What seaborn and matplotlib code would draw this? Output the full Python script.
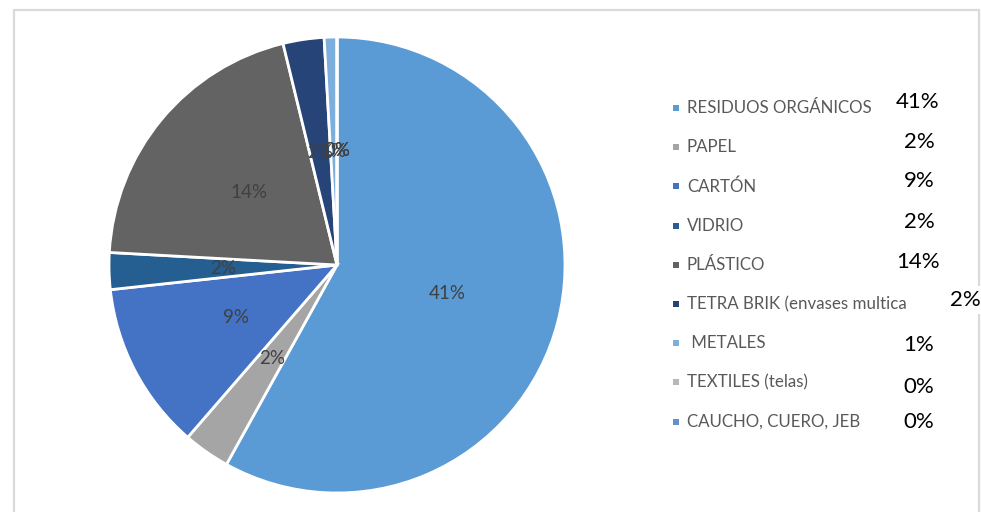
import matplotlib
matplotlib.use("Agg")
import matplotlib.pyplot as plt
from matplotlib.patches import Rectangle
import seaborn as sns

# waste composition (wedge sizes, labels as printed)
categories = ["RESIDUOS ORGÁNICOS", "PAPEL", "CARTÓN", "VIDRIO", "PLÁSTICO",
              "TETRA BRIK (envases multica", " METALES", "TEXTILES (telas)",
              "CAUCHO, CUERO, JEB"]
shares = [58.0, 3.3, 11.9, 2.6, 20.3, 2.9, 0.9, 0.0, 0.0]
pct_labels = ["41%", "2%", "9%", "2%", "14%", "2%", "1%", "0%", "0%"]
colors = ["#5B9BD5", "#A5A5A5", "#4472C4", "#255E91", "#636363",
          "#264478", "#7CAFDD", "#B7B7B7", "#698ED0"]

sns.set_theme(style="white")
plt.rcParams['font.family'] = ['Lato', 'DejaVu Sans']
palette = sns.color_palette(colors)

W, H = 981, 512
fig = plt.figure(figsize=(W / 100, H / 100), dpi=100)

# outer chart frame (bottom runs off the picture)
fig.add_artist(Rectangle((14 / W, -0.05), (979 - 14) / W, 1.05 - 10 / H,
                         transform=fig.transFigure, fill=False,
                         edgecolor="#DADADA", linewidth=1.6))

cx, cy, r = 337, 265, 228
ax = fig.add_axes([(cx - r) / W, (H - cy - r) / H, 2 * r / W, 2 * r / H])
lab_iter = iter(pct_labels)
wedges, _, autotexts = ax.pie(
    shares, colors=palette, startangle=90, counterclock=False,
    autopct=lambda p: next(lab_iter), pctdistance=0.5,
    wedgeprops=dict(edgecolor="white", linewidth=2),
    textprops=dict(color="#404040", fontsize=13.5))
ax.set_xlim(-1, 1)
ax.set_ylim(-1, 1)
ax.set_aspect("equal")
ax.axis("off")

# legend entries
y0, dy = 108, 39.2
for i, (name, col) in enumerate(zip(categories, palette)):
    y = y0 + i * dy
    fig.add_artist(Rectangle((673 / W, 1 - (y + 3) / H), 6 / W, 6 / H,
                             transform=fig.transFigure, facecolor=col,
                             edgecolor="none"))
    fig.text(687 / W, 1 - y / H, name, fontsize=12.2, color="#595959",
             va="center", ha="left")

# percentages typed next to the legend
pct_x = [918, 919, 919, 919, 918, 965, 919, 919, 919]
pct_y = [102, 142, 181, 222, 262, 300, 345, 387, 422]
for txt, x, y in zip(pct_labels, pct_x, pct_y):
    fig.text(x / W, 1 - y / H, txt, fontsize=16, color="black",
             ha="center", va="center",
             bbox=dict(facecolor="white", edgecolor="none", pad=3))

fig.savefig("out.png", dpi=100)
